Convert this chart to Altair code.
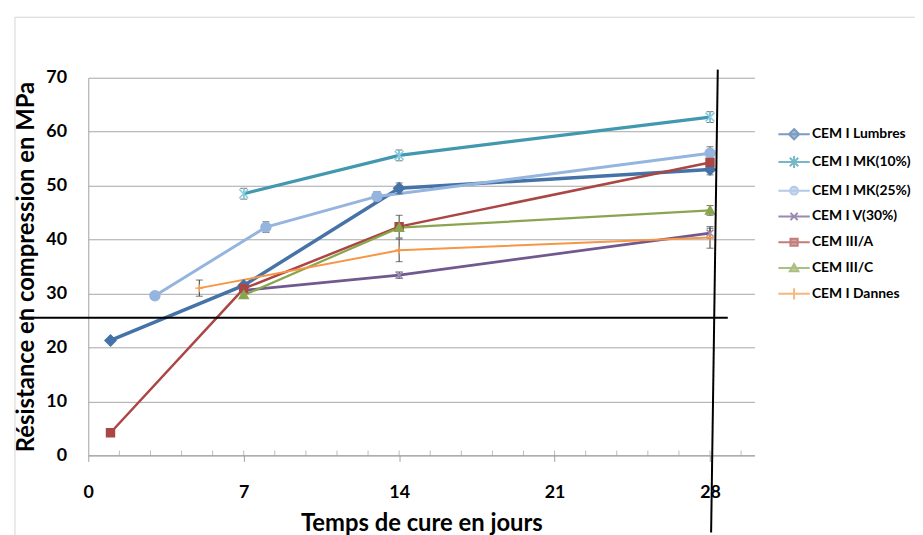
import altair as alt
import pandas as pd

FONT = "Lato"

series = ["CEM I Lumbres", "CEM I MK(10%)", "CEM I MK(25%)", "CEM I V(30%)",
          "CEM III/A", "CEM III/C", "CEM I Dannes"]

lumbres_days = [1, 7, 14, 28]
lumbres_mpa = [21.3, 31.5, 49.5, 53.0]
mk10_days = [7, 14, 28]
mk10_mpa = [48.5, 55.6, 62.7]
mk25_days = [3, 8, 13, 28]
mk25_mpa = [29.6, 42.3, 48.0, 56.0]
v30_days = [7, 14, 28]
v30_mpa = [30.6, 33.4, 41.2]
iiia_days = [1, 7, 14, 28]
iiia_mpa = [4.2, 30.9, 42.4, 54.3]
iiic_days = [7, 14, 28]
iiic_mpa = [29.7, 42.2, 45.4]
dannes_days = [5, 14, 28]
dannes_mpa = [31.0, 38.0, 40.4]

# error bars: series, day, centre, half-width
err_series = ["CEM I Lumbres", "CEM I Lumbres", "CEM I MK(10%)", "CEM I MK(10%)", "CEM I MK(10%)",
              "CEM I MK(25%)", "CEM I MK(25%)", "CEM I MK(25%)", "CEM I MK(25%)",
              "CEM I V(30%)", "CEM I V(30%)", "CEM III/A", "CEM III/C",
              "CEM I Dannes", "CEM I Dannes", "CEM I Dannes"]
err_days = [14, 28, 7, 14, 28, 3, 8, 13, 28, 14, 28, 14, 28, 5, 14, 28]
err_mid = [49.5, 53.0, 48.5, 55.6, 62.7, 29.6, 42.3, 48.0, 56.0, 33.4, 41.2, 42.4, 45.4, 31.0, 38.0, 40.4]
err_half = [1.0, 1.0, 1.0, 1.0, 1.0, 0.4, 1.0, 0.9, 1.2, 0.6, 0.9, 2.1, 0.9, 1.5, 2.1, 2.0]

x_ticks = [0, 7, 14, 21, 28]
minor_ticks = [1.4, 2.8, 4.2, 5.6, 7, 8.4, 9.8, 11.2, 12.6, 14, 15.4, 16.8, 18.2, 19.6, 21,
               22.4, 23.8, 25.2, 26.6, 28, 29.4]
y_ticks = [0, 10, 20, 30, 40, 50, 60, 70]

# hand-drawn black annotation lines (data units)
annot_x = [-3.1, 28.35]
annot_x2 = [28.8, 28.05]
annot_y = [25.5, 71.5]
annot_y2 = [25.5, -14.3]

line_colors = ["#4572A7", "#4198AF", "#95B5DE", "#71588F", "#AA4643", "#89A54E", "#F79646"]
marker_fill = ["#4572A7", "#4198AF", "#95B5DE", "#71588F", "#AA4643", "#89A54E", "#F79646"]
marker_stroke = ["#4572A7", "#86CDE2", "#95B5DE", "#9C8CB9", "#AA4643", "#89A54E", "#F79646"]
line_widths = [3.5, 2, 2, 2, 2, 2, 2]

marker_paths = [
    "M0,-1.1L1.1,0L0,1.1L-1.1,0Z",
    "M-0.9,-0.9L0.9,0.9M-0.9,0.9L0.9,-0.9M0,-1.2L0,1.2",
    "circle",
    "M-0.7,-0.7L0.7,0.7M-0.7,0.7L0.7,-0.7",
    "M-0.8,-0.8L0.8,-0.8L0.8,0.8L-0.8,0.8Z",
    "M0,-0.9L0.9,0.7L-0.9,0.7Z",
    "M-0.8,0L0.8,0M0,-0.8L0,0.8",
]
seg = "M-1,0L1,0"
legend_paths = [
    seg + "M0,-0.33L0.33,0L0,0.33L-0.33,0Z",
    seg + "M-0.27,-0.27L0.27,0.27M-0.27,0.27L0.27,-0.27M0,-0.38L0,0.38",
    seg + "M0.25,0A0.25,0.25,0,1,1,-0.25,0A0.25,0.25,0,1,1,0.25,0Z",
    seg + "M-0.23,-0.23L0.23,0.23M-0.23,0.23L0.23,-0.23",
    seg + "M-0.23,-0.23L0.23,-0.23L0.23,0.23L-0.23,0.23Z",
    seg + "M0,-0.26L0.27,0.2L-0.27,0.2Z",
    seg + "M0,-0.36L0,0.36",
]

rows = []
for name, ds, vs in [(series[0], lumbres_days, lumbres_mpa), (series[1], mk10_days, mk10_mpa),
                     (series[2], mk25_days, mk25_mpa), (series[3], v30_days, v30_mpa),
                     (series[4], iiia_days, iiia_mpa), (series[5], iiic_days, iiic_mpa),
                     (series[6], dannes_days, dannes_mpa)]:
    for d, v in zip(ds, vs):
        rows.append({"series": name, "day": d, "mpa": v})
df = pd.DataFrame(rows)

err_df = pd.DataFrame({"series": err_series, "day": err_days,
                       "lo": [m - h for m, h in zip(err_mid, err_half)],
                       "hi": [m + h for m, h in zip(err_mid, err_half)]})
annot_df = pd.DataFrame({"x": annot_x, "x2": annot_x2, "y": annot_y, "y2": annot_y2})
minor_df = pd.DataFrame({"day": minor_ticks})

xscale = alt.Scale(domain=[0, 30], nice=False, zero=False)
yscale = alt.Scale(domain=[0, 70], nice=False)

x_axis = alt.Axis(values=x_ticks, title="Temps de cure en jours", grid=False, tickSize=6,
                  tickColor="#a0a0a0", domainColor="#a0a0a0", labelFont=FONT,
                  labelFontWeight="bold", labelFontSize=18, labelColor="black",
                  labelPadding=23, labelFlush=False, titleFont=FONT, titleFontSize=24,
                  titleFontWeight="bold", titleColor="black", titlePadding=10)
y_axis = alt.Axis(values=y_ticks, grid=True, gridColor="#a6a6a6", tickSize=0,
                  domainColor="#a0a0a0", labelPadding=22, labelFont=FONT,
                  labelFontWeight="bold", labelFontSize=18, labelColor="black",
                  title="Résistance en compression en MPa", titleFont=FONT,
                  titleFontSize=24, titleFontWeight="bold", titleColor="black", titlePadding=7)

X = lambda f: alt.X(f, type="quantitative", scale=xscale, axis=x_axis)
Y = lambda f: alt.Y(f, type="quantitative", scale=yscale, axis=y_axis)

base = alt.Chart(df)

frame = alt.Chart(pd.DataFrame({"a": [0]})).mark_rect(
    fill="transparent", stroke="#d4d4d4", strokeWidth=1).encode(
    x=alt.value(-74), x2=alt.value(1000), y=alt.value(-61), y2=alt.value(1000))

lines = base.mark_line().encode(
    x=X("day"),
    y=Y("mpa"),
    color=alt.Color("series:N", scale=alt.Scale(domain=series, range=line_colors), legend=None),
    strokeWidth=alt.StrokeWidth("series:N", scale=alt.Scale(domain=series, range=line_widths), legend=None),
    detail="series:N",
)

minor = alt.Chart(minor_df).mark_tick(
    orient="vertical", size=5, thickness=1, yOffset=-2.5, color="#a0a0a0").encode(
    x=X("day"),
    y=alt.YDatum(0, scale=yscale, axis=y_axis),
)

err_rule = alt.Chart(err_df).mark_rule(color="#3a3a3a", strokeWidth=1).encode(
    x=X("day"), y=Y("lo"), y2="hi:Q")
err_lo = alt.Chart(err_df).mark_tick(orient="horizontal", size=7, thickness=1, color="#3a3a3a").encode(
    x=X("day"), y=Y("lo"))
err_hi = alt.Chart(err_df).mark_tick(orient="horizontal", size=7, thickness=1, color="#3a3a3a").encode(
    x=X("day"), y=Y("hi"))

markers = base.mark_point(filled=True, size=100, strokeWidth=1.5, opacity=1).encode(
    x=X("day"),
    y=Y("mpa"),
    fill=alt.Fill("series:N", scale=alt.Scale(domain=series, range=marker_fill), legend=None),
    stroke=alt.Stroke("series:N", scale=alt.Scale(domain=series, range=marker_stroke), legend=None),
    shape=alt.Shape("series:N", scale=alt.Scale(domain=series, range=marker_paths), legend=None),
)

annots = alt.Chart(annot_df).mark_rule(color="black", strokeWidth=2).encode(
    x=X("x"), x2="x2:Q",
    y=Y("y"), y2="y2:Q",
)

legend = alt.Legend(title=None, orient="none", legendX=695, legendY=40,
                    labelFont=FONT, labelFontSize=14, labelFontWeight="bold",
                    labelColor="black", symbolSize=1000, rowPadding=1, labelOffset=1,
                    symbolStrokeWidth=2)

legend_layer = base.transform_filter("false").mark_point(filled=True, strokeWidth=2).encode(
    fill=alt.Fill("series:N", scale=alt.Scale(domain=series, range=marker_fill), legend=legend),
    stroke=alt.Stroke("series:N", scale=alt.Scale(domain=series, range=line_colors), legend=legend),
    shape=alt.Shape("series:N", scale=alt.Scale(domain=series, range=legend_paths), legend=legend),
)

chart = alt.layer(frame, lines, minor, err_rule, err_lo, err_hi, markers, annots, legend_layer).resolve_scale(
    fill="independent", stroke="independent", shape="independent"
).properties(
    width=672, height=381,
    autosize=alt.AutoSizeParams(type="none"),
    padding={"left": 81, "top": 68, "right": 162, "bottom": 78},
    background="white",
).configure_view(stroke=None)

chart.save("out.html", embed_options={"renderer": "svg", "actions": False})
